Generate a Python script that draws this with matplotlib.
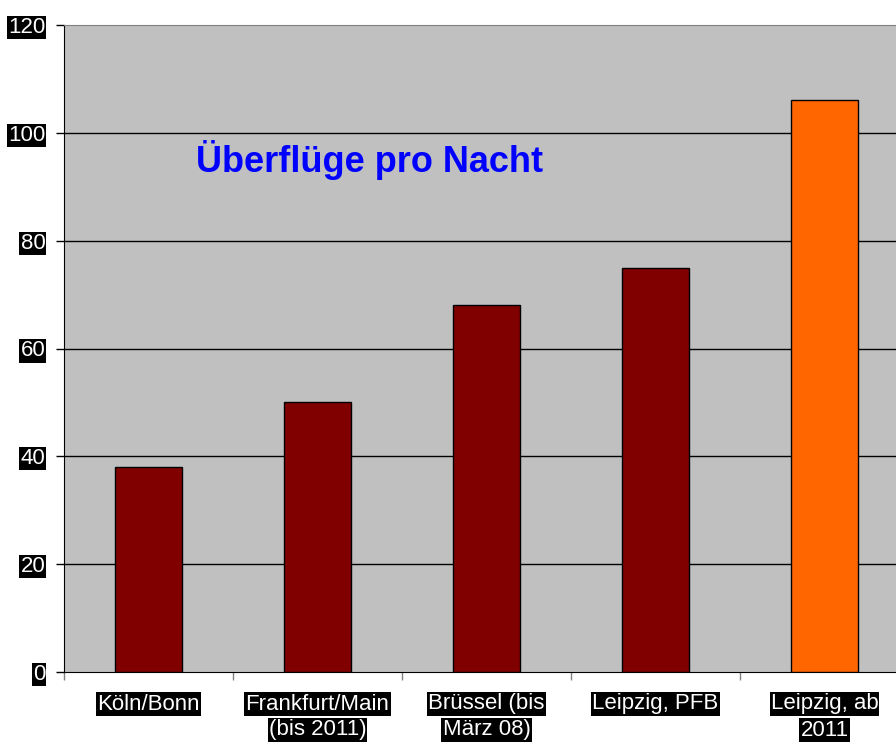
import matplotlib
matplotlib.use("Agg")
import matplotlib.pyplot as plt
import matplotlib.transforms as mtransforms

plt.rcParams['font.family'] = ['Liberation Sans', 'DejaVu Sans']

categories = [["Köln/Bonn"], ["Frankfurt/Main", "(bis 2011)"], ["Brüssel (bis", "März 08)"],
              ["Leipzig, PFB"], ["Leipzig, ab", "2011"]]
values = [38, 50, 68, 75, 106]
colors = ["#800000", "#800000", "#800000", "#800000", "#FF6600"]
yticks = [0, 20, 40, 60, 80, 100, 120]
title = "Überflüge pro Nacht"

W, H = 896, 742
fig = plt.figure(figsize=(W / 100, H / 100), dpi=100)
ax = fig.add_axes([64 / W, (H - 672) / H, (909 - 64) / W, (672 - 25) / H])
ax.set_facecolor("#C0C0C0")

x = list(range(len(values)))
ax.bar(x, values, width=0.4, color=colors, edgecolor="black", linewidth=1.0, zorder=3)

ax.set_xlim(-0.5, len(values) - 0.5)
ax.set_ylim(0, 120)
ax.set_yticks(yticks)
ax.set_yticklabels([str(v) for v in yticks])
for y in yticks[1:-1]:
    ax.axhline(y, color="black", linewidth=1.0, zorder=1)

ax.spines["top"].set_color("#808080")
ax.spines["right"].set_visible(False)
ax.spines["left"].set_color("black")
ax.spines["bottom"].set_color("black")

ax.tick_params(axis="y", direction="out", length=6, width=1, color="black", pad=7.5,
               labelsize=16, labelcolor="white")
for lbl in ax.get_yticklabels():
    lbl.set_bbox(dict(boxstyle="square,pad=0.05", facecolor="black", edgecolor="none"))

ax.set_xticks([i - 0.5 for i in range(len(values) + 1)])
ax.set_xticklabels([])
ax.tick_params(axis="x", direction="out", length=6, width=1, color="#808080")

trans = mtransforms.blended_transform_factory(ax.transData, fig.transFigure)
for i, lines in enumerate(categories):
    for j, line in enumerate(lines):
        ypix = 704 + j * 26
        ax.text(i, (H - ypix) / H, line, transform=trans, ha="center", va="center",
                fontsize=16, color="white",
                bbox=dict(boxstyle="square,pad=0.05", facecolor="black", edgecolor="none"),
                clip_on=False)

ax.text(0.28, 95, title, color="#0000FF", fontsize=26, fontweight="bold",
        ha="left", va="center", zorder=4)

fig.savefig("out.png", dpi=100)
